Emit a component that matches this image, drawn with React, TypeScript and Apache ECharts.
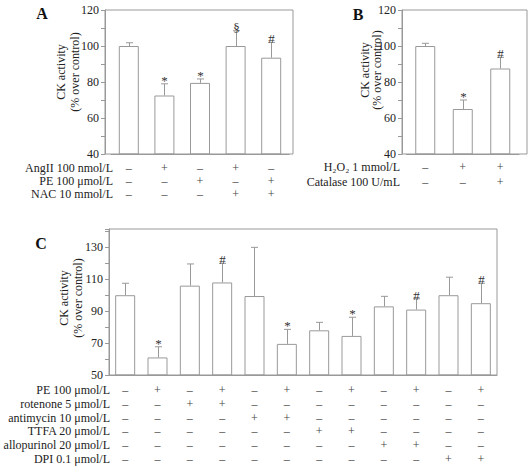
import React, { useEffect, useRef } from 'react';
import * as echarts from 'echarts';

const FONT = '"Liberation Serif", "Times New Roman", serif';
const TEXT = '#222';
const LINE = '#999';

// Panel A
const rowsA = ['AngII 100 nmol/L', 'PE 100 μmol/L', 'NAC 10 mmol/L'];
const signsA = [
  ['–', '+', '–', '+', '–'],
  ['–', '–', '+', '–', '+'],
  ['–', '–', '–', '+', '+'],
];
const valuesA = [100, 72.5, 79.5, 100, 93.5];
const errorsA = [1.8, 6.5, 2.2, 8.5, 8.5];
const marksA = ['', '*', '*', '§', '#'];
const ticksA = [40, 60, 80, 100, 120];

// Panel B
const rowsB = ['H₂O₂ 1 mmol/L', 'Catalase 100 U/mL'];
const signsB = [
  ['–', '+', '+'],
  ['–', '–', '+'],
];
const valuesB = [100, 65, 87.5];
const errorsB = [1.5, 5, 6.2];
const marksB = ['', '*', '#'];
const ticksB = [40, 60, 80, 100, 120];

// Panel C
const rowsC = [
  'PE 100 μmol/L',
  'rotenone 5 μmol/L',
  'antimycin 10 μmol/L',
  'TTFA 20 μmol/L',
  'allopurinol 20 μmol/L',
  'DPI 0.1 μmol/L',
];
const signsC = [
  ['–', '+', '–', '+', '–', '+', '–', '+', '–', '+', '–', '+'],
  ['–', '–', '+', '+', '–', '–', '–', '–', '–', '–', '–', '–'],
  ['–', '–', '–', '–', '+', '+', '–', '–', '–', '–', '–', '–'],
  ['–', '–', '–', '–', '–', '–', '+', '+', '–', '–', '–', '–'],
  ['–', '–', '–', '–', '–', '–', '–', '–', '+', '+', '–', '–'],
  ['–', '–', '–', '–', '–', '–', '–', '–', '–', '–', '+', '+'],
];
const valuesC = [100, 61, 106, 108, 99.5, 69.5, 78, 74.5, 93, 91, 100, 95];
const errorsC = [7.5, 6.7, 13.6, 12, 30.5, 9.1, 5, 11.7, 6.3, 6.8, 11.3, 12.5];
const marksC = ['', '*', '', '#', '', '*', '', '*', '', '#', '', '#'];
const ticksC = [50, 70, 90, 110, 130];

const panels = [
  {
    letter: 'A', letterPos: [42, 13],
    rows: rowsA, signs: signsA, values: valuesA, errors: errorsA, marks: marksA, ticks: ticksA,
    min: 40, max: 120,
    grid: { left: 111, top: 10, width: 178, height: 144 },
    frame: { x: 105, y: 10, width: 188, height: 144 },
    offset: 6, rowX: 113, rowY: 168, rowStep: 12.8, labelMargin: 7.6,
    nameGap: 23, nameLH: 14, namePad: 20,
  },
  {
    letter: 'B', letterPos: [358, 14],
    rows: rowsB, signs: signsB, values: valuesB, errors: errorsB, marks: marksB, ticks: ticksB,
    min: 40, max: 120,
    grid: { left: 406.5, top: 10, width: 112.5, height: 144 },
    frame: { x: 402, y: 10, width: 125, height: 144 },
    offset: 4.5, rowX: 400, rowY: 167, rowStep: 14.5, labelMargin: 6,
    nameGap: 19, nameLH: 12, namePad: 24,
  },
  {
    letter: 'C', letterPos: [41, 243],
    rows: rowsC, signs: signsC, values: valuesC, errors: errorsC, marks: marksC, ticks: ticksC,
    min: 50, max: 141.5,
    grid: { left: 109, top: 229, width: 388, height: 146 },
    frame: { x: 109, y: 229, width: 388, height: 146 },
    offset: 0, rowX: 110, rowY: 390, rowStep: 13.8, labelMargin: 8.1,
    nameGap: 24, nameLH: 14, namePad: 8,
  },
];

function buildOption() {
  const grid: any[] = [];
  const xAxis: any[] = [];
  const yAxis: any[] = [];
  const series: any[] = [];
  const graphic: any[] = [];

  panels.forEach((p, pi) => {
    grid.push({ ...p.grid, show: false, containLabel: false });
    const cats = p.values.map((_, i) => String(i + 1));
    xAxis.push({
      type: 'category',
      gridIndex: pi,
      data: cats,
      axisLine: { show: true, lineStyle: { color: LINE, width: 1 } },
      axisTick: { show: false },
      axisLabel: {
        interval: 0,
        margin: p.labelMargin,
        fontSize: 12,
        lineHeight: p.rowStep,
        color: '#444',
        fontFamily: FONT,
        formatter: (_v: string, idx: number) => p.signs.map((r) => r[idx]).join('\n'),
      },
    });
    yAxis.push({
      type: 'value',
      gridIndex: pi,
      min: p.min,
      max: p.max,
      interval: 10,
      offset: p.offset,
      name: 'CK activity\n(% over control)',
      nameLocation: 'middle',
      nameRotate: 90,
      nameGap: p.nameGap,
      nameMoveOverlap: false,
      nameTextStyle: {
        fontSize: 12,
        lineHeight: p.nameLH,
        color: TEXT,
        fontFamily: FONT,
        padding: [0, 0, 0, p.namePad],
      },
      axisLine: { show: true, lineStyle: { color: LINE, width: 1 } },
      axisTick: { show: true, inside: false, length: 4, lineStyle: { color: LINE } },
      splitLine: { show: false },
      axisLabel: {
        margin: 6,
        fontSize: 12,
        color: TEXT,
        fontFamily: FONT,
        formatter: (v: number) => (p.ticks.includes(v) ? String(v) : ''),
      },
    });
    series.push({
      type: 'bar',
      xAxisIndex: pi,
      yAxisIndex: pi,
      data: p.values,
      barWidth: 20,
      itemStyle: { color: '#fff', borderColor: LINE, borderWidth: 1 },
      silent: true,
    });
    series.push({
      type: 'custom',
      xAxisIndex: pi,
      yAxisIndex: pi,
      silent: true,
      z: 5,
      data: p.values.map((v, i) => [i, v, v + p.errors[i]]),
      renderItem: (params: any, api: any) => {
        const idx = api.value(0);
        const base = api.coord([idx, api.value(1)]);
        const top = api.coord([idx, api.value(2)]);
        const x = Math.round(base[0]) + 0.5;
        const mark = p.marks[params.dataIndex];
        return {
          type: 'group',
          children: [
            { type: 'line', shape: { x1: x, y1: base[1], x2: x, y2: top[1] }, style: { stroke: LINE, lineWidth: 1 } },
            { type: 'line', shape: { x1: x - 3.5, y1: top[1], x2: x + 3.5, y2: top[1] }, style: { stroke: LINE, lineWidth: 1 } },
            {
              type: 'text',
              style: {
                text: mark,
                x: x,
                y: top[1] + 3,
                align: 'center',
                verticalAlign: 'bottom',
                textAlign: 'center',
                textVerticalAlign: 'bottom',
                fontSize: 13,
                fontFamily: FONT,
                fill: '#333',
              },
            },
          ],
        };
      },
    });

    graphic.push({
      type: 'rect',
      shape: { ...p.frame },
      style: { fill: 'none', stroke: LINE, lineWidth: 1 },
      silent: true,
      z: 10,
    });
    graphic.push({
      type: 'text',
      x: p.letterPos[0],
      y: p.letterPos[1],
      style: {
        text: p.letter,
        font: `bold 16px ${FONT}`,
        fill: '#111',
        align: 'center',
        verticalAlign: 'middle',
        textAlign: 'center',
        textVerticalAlign: 'middle',
      },
    });
    p.rows.forEach((r, ri) => {
      graphic.push({
        type: 'text',
        x: p.rowX,
        y: p.rowY + ri * p.rowStep,
        style: {
          text: r,
          font: `12px ${FONT}`,
          fill: TEXT,
          align: 'right',
          verticalAlign: 'middle',
          textAlign: 'right',
          textVerticalAlign: 'middle',
        },
      });
    });
  });

  return {
    animation: false,
    backgroundColor: '#fff',
    textStyle: { fontFamily: FONT },
    grid,
    xAxis,
    yAxis,
    series,
    graphic,
  };
}

export default function App() {
  const ref = useRef<HTMLDivElement>(null);
  useEffect(() => {
    if (!ref.current) return;
    const chart = echarts.init(ref.current, undefined, { renderer: 'svg' });
    chart.setOption(buildOption());
    return () => chart.dispose();
  }, []);
  return (
    <div
      ref={ref}
      style={{ position: 'fixed', left: 0, top: 0, width: 531, height: 469, background: '#fff' }}
    />
  );
}
